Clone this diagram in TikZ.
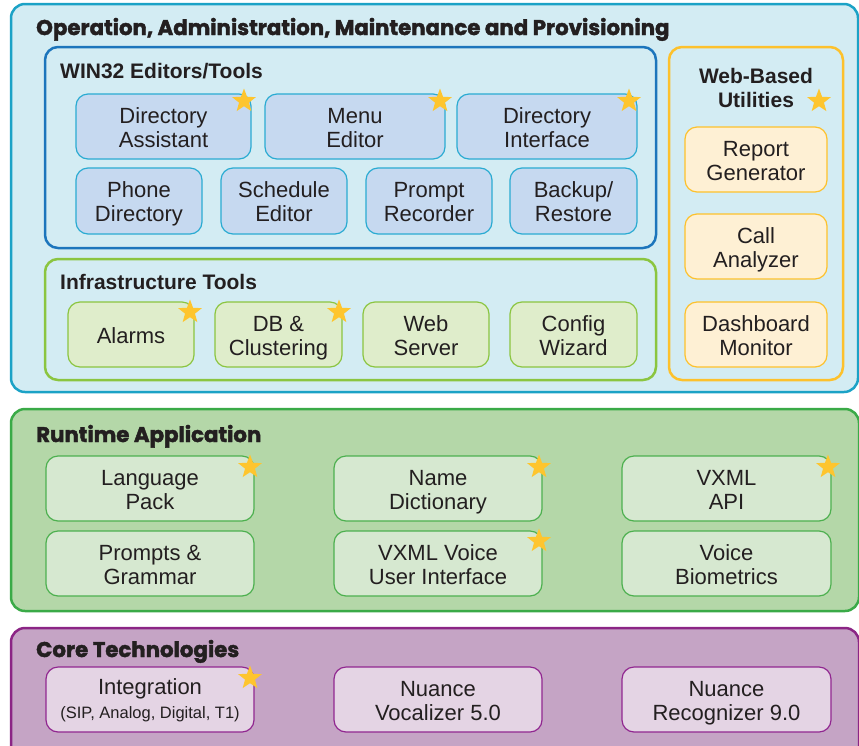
\documentclass[tikz,border=0pt]{standalone}
\usepackage{fontspec}
\setmainfont{Liberation Sans}
\newfontfamily\headfont{Poppins}[BoldFeatures={FakeBold=2}]
\usetikzlibrary{shapes.geometric}
\definecolor{txt}{HTML}{231F20}
\definecolor{oampFill}{HTML}{D3ECF3}
\definecolor{oampDraw}{HTML}{1BA2C6}
\definecolor{winDraw}{HTML}{1C75BC}
\definecolor{winBoxFill}{HTML}{C6D9F0}
\definecolor{winBoxDraw}{HTML}{2AABD2}
\definecolor{infraDraw}{HTML}{8BC540}
\definecolor{infraBoxFill}{HTML}{DFEDCB}
\definecolor{webDraw}{HTML}{FDC12C}
\definecolor{webBoxFill}{HTML}{FEF0D4}
\definecolor{rtFill}{HTML}{B4D7A8}
\definecolor{rtDraw}{HTML}{3AAA47}
\definecolor{rtBoxFill}{HTML}{D6E8D0}
\definecolor{rtBoxDraw}{HTML}{4DB04F}
\definecolor{coreFill}{HTML}{C5A4C5}
\definecolor{coreDraw}{HTML}{8B2585}
\definecolor{coreBoxFill}{HTML}{E4D4E4}
\definecolor{coreBoxDraw}{HTML}{912790}
\definecolor{starCol}{HTML}{FEC52E}
% plain box (no text)
\newcommand\bx[6]{\node[#6, minimum width={#4-#2}, minimum height={#5-#3}] (#1) at ({(#2+#4)/2},{(#3+#5)/2}) {};}
% text box: #7 text, #8 bottom strut depth
\newcommand\bt[8]{\node[#6, minimum width={#4-#2}, minimum height={#5-#3}] (#1) at ({(#2+#4)/2},{(#3+#5)/2}) {\rule{0pt}{22pt}#7\rule[-#8pt]{0pt}{#8pt}};}
\tikzset{
  layer/.style={rounded corners=14pt, line width=2.5pt, inner sep=0pt},
  grp/.style={rounded corners=13pt, line width=2.5pt, inner sep=0pt, fill=oampFill},
  inbox/.style={rounded corners=12pt, line width=1.2pt, inner sep=0pt, align=center, text=txt,
    font=\fontsize{22}{24}\selectfont},
  winbox/.style={inbox, fill=winBoxFill, draw=winBoxDraw},
  infrabox/.style={inbox, fill=infraBoxFill, draw=infraDraw},
  webbox/.style={inbox, fill=webBoxFill, draw=webDraw},
  rtbox/.style={inbox, fill=rtBoxFill, draw=rtBoxDraw},
  corebox/.style={inbox, fill=coreBoxFill, draw=coreBoxDraw},
  head/.style={anchor=base west, text=txt, inner sep=0pt, font=\headfont\bfseries\fontsize{21.3}{24}\selectfont},
  sub/.style={anchor=base west, text=txt, inner sep=0pt, font=\bfseries\fontsize{21}{24}\selectfont},
  mark5/.style={star, star points=5, star point ratio=2.4, fill=starCol, minimum size=25pt, inner sep=0pt}
}
\begin{document}
\begin{tikzpicture}[x=1pt,y=-1pt]
\useasboundingbox (0,0) rectangle (859,745);
% layers
\bx{oamp}{11}{4}{858}{392}{layer, fill=oampFill, draw=oampDraw}
\bx{rt}{11}{409}{859}{611}{layer, fill=rtFill, draw=rtDraw}
\bx{core}{11}{628}{859}{760}{layer, fill=coreFill, draw=coreDraw}
\node[head] (oampT) at (36,35) {Operation, Administration, Maintenance and Provisioning};
\node[head] (rtT) at (36,442) {Runtime Application};
\node[head] (coreT) at (36,657) {Core Technologies};
% groups
\bx{win}{45}{47}{656}{248}{grp, draw=winDraw}
\bx{infra}{45}{259}{656}{380}{grp, draw=infraDraw}
\bx{web}{669}{47}{843}{380}{grp, draw=webDraw}
\node[sub] (winT) at (60,78) {WIN32 Editors/Tools};
\node[sub] (infraT) at (60,289) {Infrastructure Tools};
\node[text=txt, align=center, inner sep=0pt, font=\bfseries\fontsize{21}{24}\selectfont] (webT) at (756,88) {Web-Based\\Utilities};
% WIN32 boxes
\bt{da}{76}{94}{251}{159}{winbox}{Directory\\Assistant}{5}
\bt{me}{265}{94}{445}{159}{winbox}{Menu\\Editor}{5}
\bt{di}{457}{94}{637}{159}{winbox}{Directory\\Interface}{5}
\bt{pd}{76}{168}{202}{234}{winbox}{Phone\\Directory}{5}
\bt{se}{221}{168}{347}{234}{winbox}{Schedule\\Editor}{5}
\bt{pr}{366}{168}{492}{234}{winbox}{Prompt\\Recorder}{5}
\bt{br}{510}{168}{637}{234}{winbox}{Backup/\\Restore}{5}
% Infrastructure
\bt{al}{68}{302}{194}{367}{infrabox}{Alarms}{5}
\bt{db}{215}{302}{342}{367}{infrabox}{DB \&\\Clustering}{5}
\bt{ws}{363}{302}{489}{367}{infrabox}{Web\\Server}{5}
\bt{cw}{510}{302}{637}{367}{infrabox}{Config\\Wizard}{5}
% Web-based
\bt{rg}{685}{127}{827}{192}{webbox}{Report\\Generator}{5}
\bt{ca}{685}{214}{827}{279}{webbox}{Call\\Analyzer}{5}
\bt{dm}{685}{302}{827}{367}{webbox}{Dashboard\\Monitor}{5}
% Runtime
\bt{lp}{46}{456}{254}{521}{rtbox}{Language\\Pack}{5}
\bt{nd}{334}{456}{542}{521}{rtbox}{Name\\Dictionary}{5}
\bt{va}{622}{456}{831}{521}{rtbox}{VXML\\API}{5}
\bt{pg}{46}{531}{254}{596}{rtbox}{Prompts \&\\Grammar}{5}
\bt{vu}{334}{531}{542}{596}{rtbox}{VXML Voice\\User Interface}{5}
\bt{vb}{622}{531}{831}{596}{rtbox}{Voice\\Biometrics}{5}
% Core
\bt{ig}{46}{667}{254}{732}{corebox}{Integration\\{\fontsize{16.5}{18}\selectfont(SIP, Analog, Digital, T1)}}{9}
\bt{nv}{334}{667}{542}{732}{corebox}{Nuance\\Vocalizer 5.0}{5}
\bt{nr}{622}{667}{831}{732}{corebox}{Nuance\\Recognizer 9.0}{5}
% stars
\node[mark5] (s1) at (244,101) {};
\node[mark5] (s2) at (440,101) {};
\node[mark5] (s3) at (629,101) {};
\node[mark5] (s4) at (819,101) {};
\node[mark5] (s5) at (190,312) {};
\node[mark5] (s6) at (339,312) {};
\node[mark5] (s7) at (250,467) {};
\node[mark5] (s8) at (539,467) {};
\node[mark5] (s9) at (828,467) {};
\node[mark5] (s10) at (539,541) {};
\node[mark5] (s11) at (250,678) {};
\end{tikzpicture}
\end{document}
